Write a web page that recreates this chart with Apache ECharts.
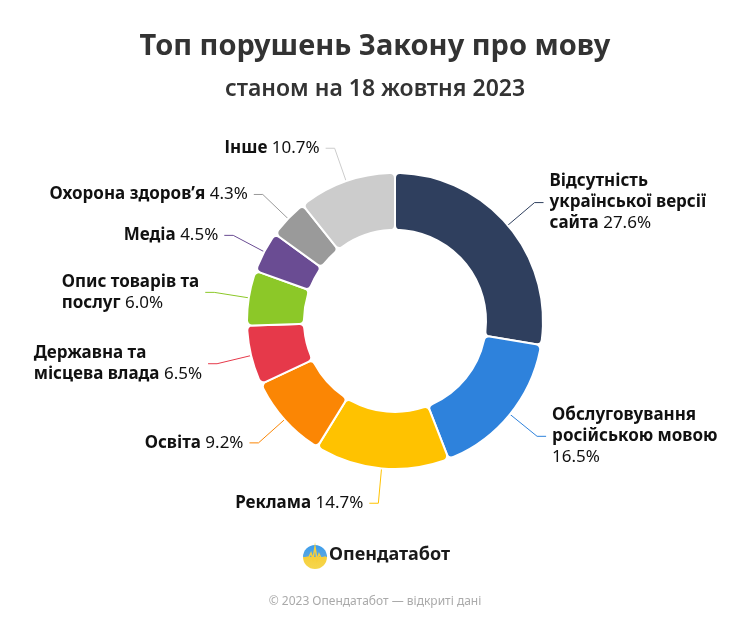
<!DOCTYPE html>
<html>
<head>
<meta charset="utf-8">
<script src="https://cdn.jsdelivr.net/npm/echarts@6/dist/echarts.min.js"></script>
<style>
html, body { margin: 0; padding: 0; background: #fff; }
#chart { width: 750px; height: 625px; }
</style>
</head>
<body>
<div id="chart"></div>
<script>
// категорії порушень (\n - перенос рядка в підписі)
var categories = [
    'Відсутність\nукраїнської версії\nсайта',
    'Обслуговування\nросійською мовою\n',
    'Реклама',
    'Освіта',
    'Державна та\nмісцева влада',
    'Опис товарів та\nпослуг',
    'Медіа',
    'Охорона здоров\u2019я',
    'Інше'
];
var shares = [27.6, 16.5, 14.7, 9.2, 6.5, 6.0, 4.5, 4.3, 10.7];
var colors = ['#2f3f5e', '#2e82dc', '#ffc200', '#fb8604', '#e6394a', '#8cc828', '#6a4c93', '#9a9a9a', '#cccccc'];

var font = 'Noto Sans';

function labelText(p) {
    var parts = p.name.split('\n');
    var last = parts.length - 1;
    var s = parts.map(function (t, i) {
        if (!t) return '';
        return '{b|' + t + (i === last ? ' ' : '') + '}';
    }).join('\n');
    return s + '{c|' + p.value.toFixed(1) + '%}';
}

function donut(id) {
    var pieChart = echarts.init(document.getElementById(id));
    var data = [];
    for (var i = 0; i < categories.length; i++) {
        data.push({name: categories[i], value: shares[i], itemStyle: {color: colors[i]}});
    }
    var option = {
        animation: false,
        textStyle: {fontFamily: font},
        title: {
            text: 'Топ порушень Закону про мову',
            subtext: 'станом на 18 жовтня 2023',
            left: 'center',
            top: 27,
            itemGap: 17,
            textStyle: {fontFamily: font, fontSize: 29, fontWeight: 'bold', color: '#333'},
            subtextStyle: {fontFamily: font, fontSize: 23, fontWeight: 600, color: '#333'}
        },
        series: [
            {
                type: 'pie',
                center: [395, 321],
                radius: [91, 148],
                startAngle: 90,
                clockwise: true,
                itemStyle: {
                    borderColor: '#fff',
                    borderWidth: 2,
                    borderRadius: 5
                },
                label: {
                    show: true,
                    formatter: labelText,
                    fontFamily: font,
                    lineHeight: 21,
                    distanceToLabelLine: 6,
                    rich: {
                        b: {fontFamily: font, fontSize: 17, fontWeight: 'bold', color: '#111', lineHeight: 21, align: 'left'},
                        c: {fontFamily: font, fontSize: 17, fontWeight: 'normal', color: '#111', lineHeight: 21, align: 'left'}
                    }
                },
                labelLine: {
                    show: true,
                    length: 35,
                    length2: 9,
                    lineStyle: {width: 1}
                },
                emphasis: {disabled: true},
                data: data
            }
        ],
        graphic: [
            {
                type: 'circle',
                shape: {cx: 315, cy: 557, r: 12},
                style: {
                    fill: new echarts.graphic.LinearGradient(0, 0, 0, 1, [
                        {offset: 0, color: '#3b9ded'},
                        {offset: 0.5, color: '#5aa6e0'},
                        {offset: 0.5, color: '#f7cf3a'},
                        {offset: 1, color: '#f5d64e'}
                    ])
                }
            },
            {
                type: 'polyline',
                shape: {points: [[304, 558], [309, 557], [311, 553], [313, 559], [315, 547], [317, 560], [319, 554], [321, 558], [326, 557]]},
                style: {stroke: '#f7cf3a', lineWidth: 1.5, fill: null}
            },
            {
                type: 'text',
                left: 329,
                top: 546,
                style: {text: 'Опендатабот', fontFamily: font, fontSize: 18, fontWeight: 'bold', fill: '#1a1a1a'}
            },
            {
                type: 'text',
                left: 'center',
                top: 596,
                style: {text: '© 2023 Опендатабот — відкриті дані', fontFamily: font, fontSize: 12, fill: '#aaa'}
            }
        ]
    };
    pieChart.setOption(option);
    window.onresize = pieChart.resize;
}

donut('chart');
</script>
</body>
</html>
